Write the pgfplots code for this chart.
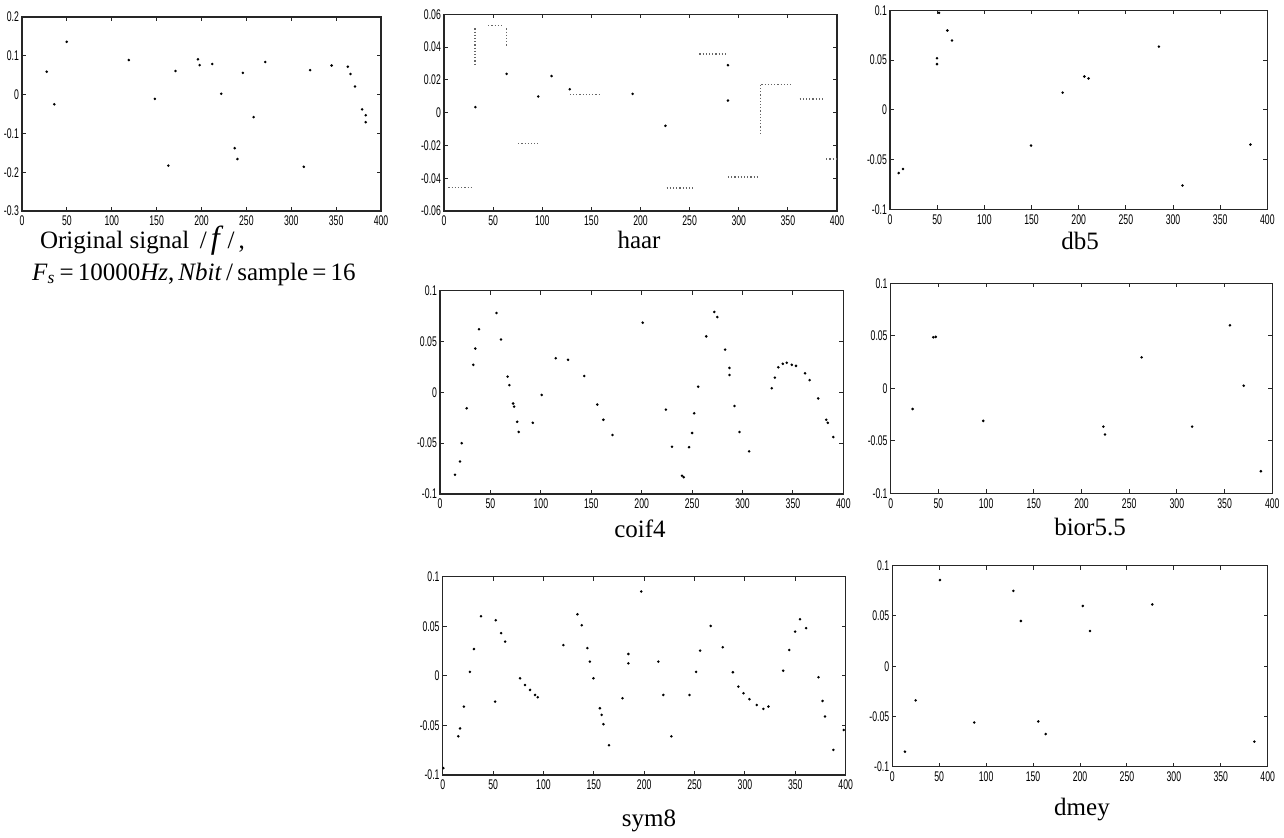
\documentclass[border=0pt]{standalone}
\usepackage{fontspec}
\setmainfont{Liberation Serif}
\setsansfont{Liberation Sans}
\usepackage{pgfplots}
\pgfplotsset{compat=1.18}

\pgfplotsset{
  wv/.style={
    scale only axis,
    anchor=south west,
    xmin=0, xmax=400,
    xtick={0,50,...,400},
    tick align=inside,
    major tick length=2pt,
    axis line style={line width=0.6pt, black!85},
    every tick/.style={black!85, line width=0.5pt},
    ticklabel style={font=\fontsize{7}{8}\selectfont\sffamily, xscale=0.62, black},
    /pgf/number format/assume math mode=true,
    scaled ticks=false,
    yticklabel style={/pgf/number format/fixed, /pgf/number format/precision=2},
    xticklabel style={yshift=1pt},
    yticklabel style={xshift=1pt},
  },
  dots/.style={only marks, mark=*, mark size=0.42pt,
    mark options={draw=none, fill=black!60}},
  seg/.style={densely dotted, line width=0.6pt, black!60},
}

\begin{document}
\begin{tikzpicture}
\useasboundingbox (0,0) rectangle (642pt,-418.5pt);

% original signal
\begin{axis}[wv, at={(11pt,-105.5pt)}, width=179.5pt, height=97pt,
  ymin=-0.3, ymax=0.2, ytick={-0.3,-0.2,...,0.2}]
\addplot[dots] coordinates {
  (27.5,0.059)(36,-0.025)(49.8,0.136)(119,0.089)(148,-0.011)(163,-0.183)
  (171,0.061)(196,0.091)(198,0.076)(212,0.079)(222,0.002)(237,-0.138)
  (240,-0.166)(246,0.056)(258,-0.058)(271,0.084)(314,-0.186)(321,0.063)
  (345,0.075)(363,0.072)(366,0.053)(371,0.021)(379,-0.038)(383,-0.053)(383,-0.071)
};
\end{axis}

% haar
\begin{axis}[wv, at={(222pt,-105.5pt)}, width=196.5pt, height=98.3pt,
  ymin=-0.06, ymax=0.06, ytick={-0.06,-0.04,...,0.06}]
\addplot[seg] coordinates {(4.4,-0.0455)(28,-0.0455)};
\addplot[seg] coordinates {(31.5,0.0515)(31.5,0.030)};
\addplot[seg] coordinates {(45,0.053)(58.6,0.053)};
\addplot[seg] coordinates {(63.7,0.0515)(63.7,0.040)};
\addplot[seg] coordinates {(75.6,-0.019)(96,-0.019)};
\addplot[seg] coordinates {(128,0.0109)(160,0.0109)};
\addplot[seg] coordinates {(226.5,-0.046)(255,-0.046)};
\addplot[seg] coordinates {(260,0.0358)(289,0.0358)};
\addplot[seg] coordinates {(289,-0.0393)(321,-0.0393)};
\addplot[seg] coordinates {(322,0.017)(322,-0.0125)};
\addplot[seg] coordinates {(323,0.017)(353.6,0.017)};
\addplot[seg] coordinates {(362,0.0084)(387.5,0.0084)};
\addplot[seg] coordinates {(389,-0.0283)(400,-0.0283)};
\addplot[dots] coordinates {
  (32,0.0034)(63.7,0.0237)(96,0.0099)(109.5,0.0224)(128,0.0143)(192,0.0115)
  (225.4,-0.008)(289,0.029)(289,0.0074)
};
\end{axis}

% db5
\begin{axis}[wv, at={(445pt,-104.7pt)}, width=188.7pt, height=99.5pt,
  ymin=-0.1, ymax=0.1, ytick={-0.1,-0.05,0,0.05,0.1}]
\addplot[dots] coordinates {
  (9.2,-0.0635)(13.8,-0.0594)(49.8,0.052)(49.8,0.046)(52,0.0976)(60.8,0.0798)
  (65.7,0.0697)(149.5,-0.0358)(183,0.0174)(206,0.0336)(210.5,0.0316)
  (285,0.0636)(310,-0.076)(382,-0.0348)
};
\end{axis}

% coif4
\begin{axis}[wv, at={(220pt,-247pt)}, width=201.7pt, height=101.7pt,
  ymin=-0.1, ymax=0.1, ytick={-0.1,-0.05,0,0.05,0.1}]
\addplot[dots] coordinates {
  (14.9,-0.081)(19.8,-0.068)(21.5,-0.050)(26.4,-0.0157)(33,0.027)(35,0.043)
  (38.7,0.062)(56,0.078)(60.5,0.052)(67,0.0154)(68.8,0.007)(72.5,-0.011)
  (73.5,-0.014)(76.5,-0.029)(78,-0.039)(92,-0.030)(100.8,-0.0026)(114.7,0.0335)
  (127,0.032)(143,0.016)(156,-0.012)(162,-0.027)(171,-0.042)(201,0.0685)
  (224,-0.017)(230,-0.0535)(240,-0.082)(241.6,-0.0835)(247,-0.054)(250,-0.040)
  (252,-0.0206)(256,0.0055)(264,0.055)(272,0.079)(275,0.074)(282.7,0.042)
  (287,0.024)(287,0.017)(292,-0.0135)(297,-0.039)(306.5,-0.058)(329,0.004)
  (332,0.0144)(335.5,0.0246)(339.9,0.028)(343.8,0.029)(348.8,0.027)(353,0.026)
  (362,0.0187)(366.5,0.012)(375,-0.006)(383,-0.027)(384.5,-0.030)(390,-0.044)
};
\end{axis}

% bior5.5
\begin{axis}[wv, at={(445.35pt,-246.65pt)}, width=190.8pt, height=105pt,
  ymin=-0.1, ymax=0.1, ytick={-0.1,-0.05,0,0.05,0.1}]
\addplot[dots] coordinates {
  (23,-0.0197)(44.7,0.0486)(47.2,0.049)(97,-0.031)(223,-0.0365)(224.6,-0.044)
  (263,0.0295)(316,-0.0365)(355.6,0.060)(370,0.0025)(388,-0.079)
};
\end{axis}

% sym8
\begin{axis}[wv, at={(221.35pt,-387.5pt)}, width=201.5pt, height=99.2pt,
  ymin=-0.1, ymax=0.1, ytick={-0.1,-0.05,0,0.05,0.1}]
\addplot[dots] coordinates {
  (0.7,-0.093)(15.5,-0.061)(17.2,-0.053)(21,-0.031)(27,0.004)(31,0.027)
  (38,0.060)(52,-0.026)(52.6,0.056)(58,0.043)(62,0.0345)(76.8,-0.0025)
  (81.7,-0.0092)(86.7,-0.0142)(91.7,-0.0193)(94.3,-0.0216)(119.8,0.031)
  (133.7,0.062)(138,0.051)(143.6,0.028)(146,0.0143)(149.6,-0.0025)(156,-0.0327)
  (157.8,-0.0394)(159.5,-0.0488)(165,-0.070)(178.4,-0.0226)(184.3,0.022)
  (184.3,0.0126)(197,0.085)(214,0.0143)(219,-0.0193)(227,-0.061)(245,-0.0193)
  (251.5,0.004)(255.5,0.0254)(266,0.0503)(278,0.0288)(288,0.0036)(293.5,-0.0109)
  (298.5,-0.0176)(304.4,-0.0236)(311.7,-0.0294)(318.3,-0.0334)(323.3,-0.031)
  (338,0.0052)(344,0.026)(349.8,0.0446)(354.7,0.057)(360.7,0.048)(373,-0.0015)
  (377,-0.0253)(379.5,-0.041)(387.8,-0.0747)(398,-0.0546)
};
\end{axis}

% dmey
\begin{axis}[wv, at={(446.15pt,-383.35pt)}, width=187.7pt, height=100.5pt,
  ymin=-0.1, ymax=0.1, ytick={-0.1,-0.05,0,0.05,0.1}]
\addplot[dots] coordinates {
  (13.5,-0.085)(24.9,-0.034)(50.8,0.0857)(87.4,-0.056)(129,0.075)(137,0.045)
  (155.6,-0.055)(163.4,-0.0675)(203,0.060)(210.6,0.035)(277,0.0615)(385.8,-0.075)
};
\end{axis}

% captions
\begin{scope}[every node/.style={font=\fontsize{12.5}{14}\selectfont}]
\node[anchor=base west] at (16.5pt,-124pt) {Original signal \,/\,\textit{\fontsize{16}{16}\selectfont f}\,/\,,};
\node[anchor=base west] at (12.5pt,-140pt)
  {\textit{F}\textsubscript{\textit{s}}\,=\,10000\textit{Hz},\,\textit{Nbit}\,/\,sample\,=\,16};
\node[anchor=base] at (319.5pt,-124pt) {haar};
\node[anchor=base] at (540pt,-124.5pt) {db5};
\node[anchor=base] at (320pt,-268.5pt) {coif4};
\node[anchor=base] at (545pt,-267.5pt) {bior5.5};
\node[anchor=base] at (324.5pt,-413pt) {sym8};
\node[anchor=base] at (541pt,-407.5pt) {dmey};
\end{scope}
\end{tikzpicture}
\end{document}
